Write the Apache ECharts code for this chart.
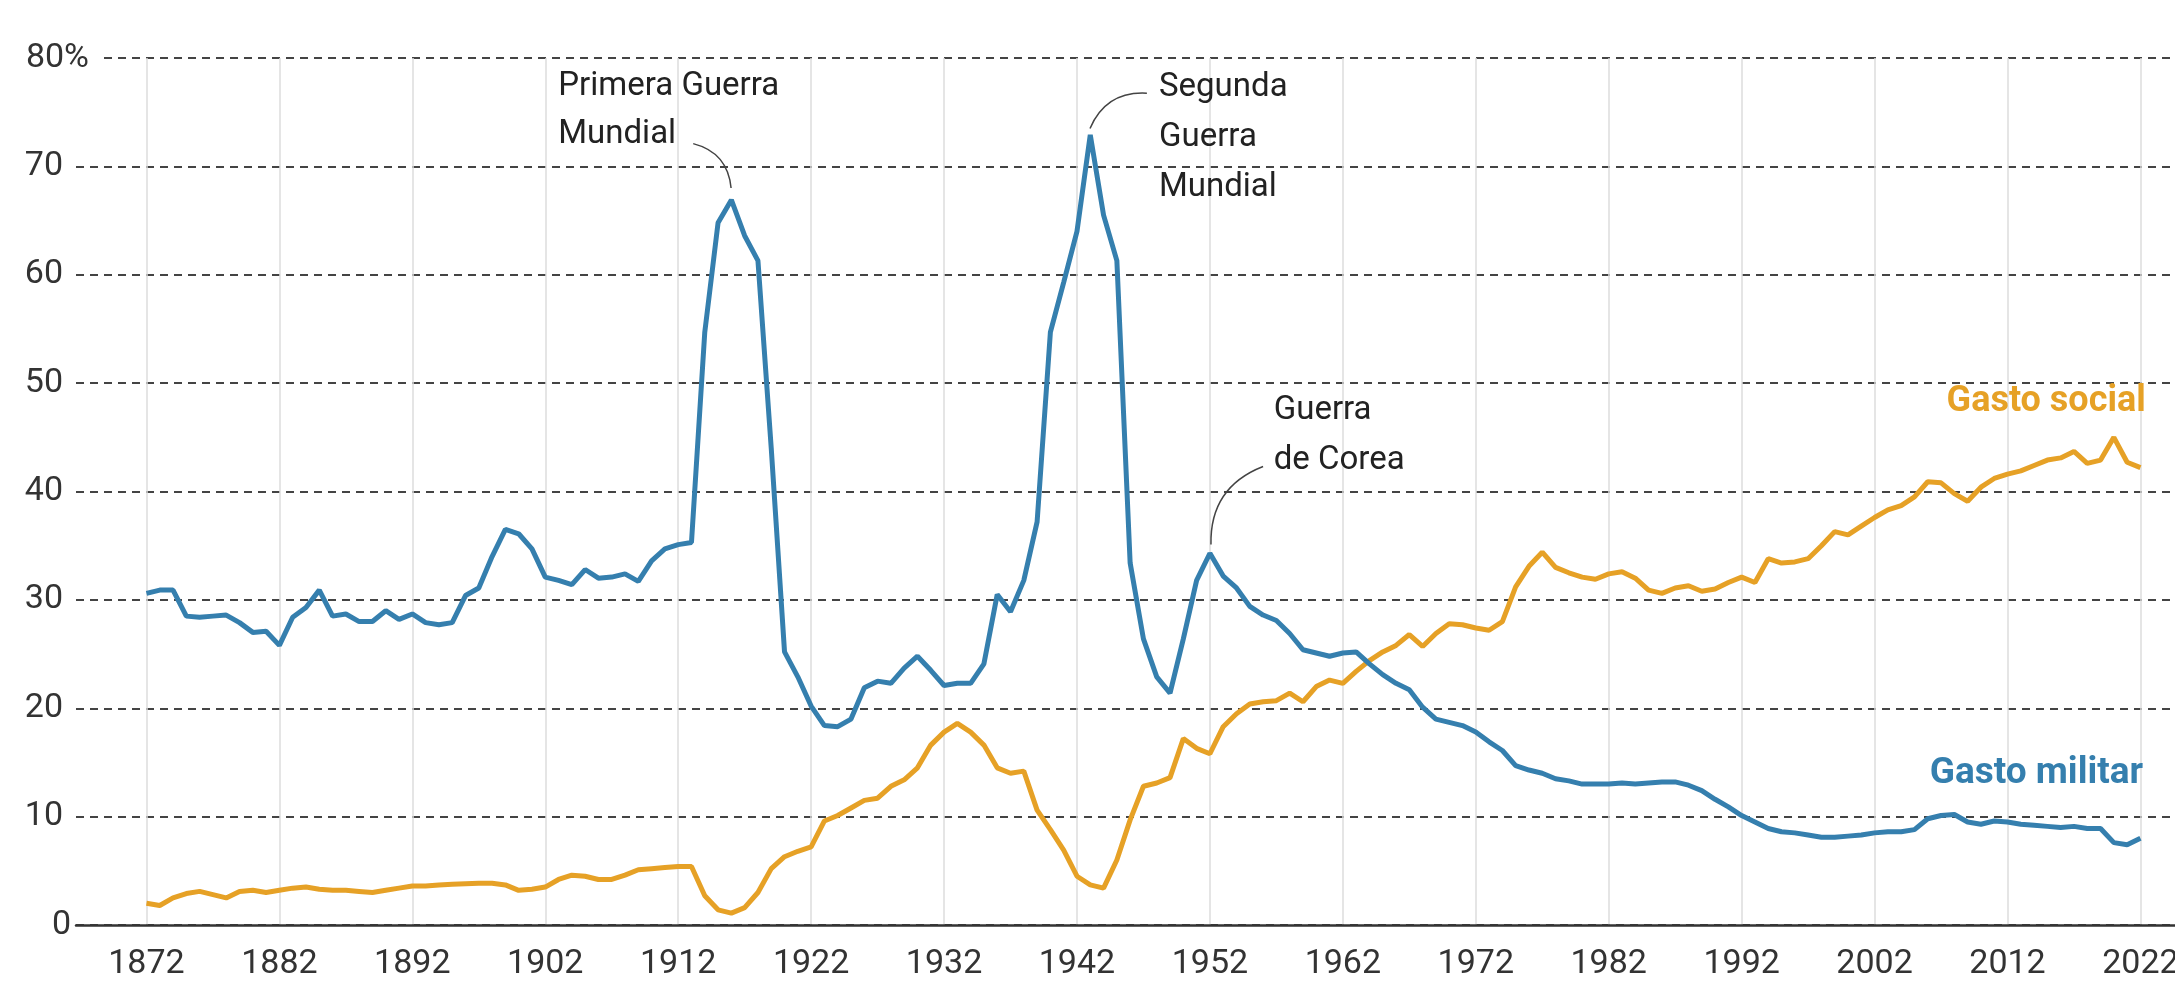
<!DOCTYPE html>
<html>
<head>
<meta charset="utf-8">
<script src="https://cdn.jsdelivr.net/npm/echarts@6/dist/echarts.min.js"></script>
<style>
  html, body { margin: 0; padding: 0; background: #fff; }
  #chart { width: 2175px; height: 993px; }
</style>
</head>
<body>
<div id="chart"></div>
<script>
// años 1872-2022, un valor por año
const firstYear = 1872
const tickYears = [1872, 1882, 1892, 1902, 1912, 1922, 1932, 1942, 1952, 1962, 1972, 1982, 1992, 2002, 2012, 2022]
const yTicks = [0, 10, 20, 30, 40, 50, 60, 70, 80]

const gastoMilitar = [
  30.6, 30.9, 30.9, 28.5, 28.4, 28.5, 28.6, 27.9, 27.0, 27.1, // 1872-1881
  25.8, 28.4, 29.3, 30.9, 28.5, 28.7, 28.0, 28.0, 29.0, 28.2, // 1882-1891
  28.7, 27.9, 27.7, 27.9, 30.4, 31.1, 34.0, 36.5, 36.1, 34.7, // 1892-1901
  32.1, 31.8, 31.4, 32.8, 32.0, 32.1, 32.4, 31.7, 33.6, 34.7, // 1902-1911
  35.1, 35.3, 54.7, 64.8, 66.9, 63.6, 61.3, 44.0, 25.2, 22.9, // 1912-1921
  20.2, 18.4, 18.3, 19.0, 21.9, 22.5, 22.3, 23.7, 24.8, 23.5, // 1922-1931
  22.1, 22.3, 22.3, 24.1, 30.5, 28.9, 31.8, 37.2, 54.7, 59.3, // 1932-1941
  64.0, 72.9, 65.5, 61.3, 33.4, 26.4, 22.9, 21.4, 26.4, 31.8, // 1942-1951
  34.3, 32.2, 31.1, 29.4, 28.6, 28.1, 26.9, 25.4, 25.1, 24.8, // 1952-1961
  25.1, 25.2, 24.1, 23.1, 22.3, 21.7, 20.1, 19.0, 18.7, 18.4, // 1962-1971
  17.8, 16.9, 16.1, 14.7, 14.3, 14.0, 13.5, 13.3, 13.0, 13.0, // 1972-1981
  13.0, 13.1, 13.0, 13.1, 13.2, 13.2, 12.9, 12.4, 11.6, 10.9, // 1982-1991
  10.1, 9.5, 8.9, 8.6, 8.5, 8.3, 8.1, 8.1, 8.2, 8.3,          // 1992-2001
  8.5, 8.6, 8.6, 8.8, 9.8, 10.1, 10.2, 9.5, 9.3, 9.6,         // 2002-2011
  9.5, 9.3, 9.2, 9.1, 9.0, 9.1, 8.9, 8.9, 7.6, 7.4,           // 2012-2021
  8.0                                                          // 2022
]

const gastoSocial = [
  2.0, 1.8, 2.5, 2.9, 3.1, 2.8, 2.5, 3.1, 3.2, 3.0,           // 1872-1881
  3.2, 3.4, 3.5, 3.3, 3.2, 3.2, 3.1, 3.0, 3.2, 3.4,           // 1882-1891
  3.6, 3.6, 3.7, 3.75, 3.8, 3.85, 3.85, 3.7, 3.2, 3.3,        // 1892-1901
  3.5, 4.2, 4.6, 4.5, 4.2, 4.2, 4.6, 5.1, 5.2, 5.3,           // 1902-1911
  5.4, 5.4, 2.7, 1.4, 1.1, 1.6, 3.0, 5.2, 6.3, 6.8,           // 1912-1921
  7.2, 9.6, 10.1, 10.8, 11.5, 11.7, 12.8, 13.4, 14.5, 16.6,   // 1922-1931
  17.8, 18.6, 17.8, 16.6, 14.5, 14.0, 14.2, 10.6, 8.8, 6.9,   // 1932-1941
  4.5, 3.7, 3.4, 6.0, 9.7, 12.8, 13.1, 13.6, 17.2, 16.3,      // 1942-1951
  15.8, 18.3, 19.5, 20.4, 20.6, 20.7, 21.4, 20.6, 22.0, 22.6, // 1952-1961
  22.3, 23.4, 24.4, 25.2, 25.8, 26.8, 25.7, 26.9, 27.8, 27.7, // 1962-1971
  27.4, 27.2, 28.0, 31.2, 33.1, 34.4, 33.0, 32.5, 32.1, 31.9, // 1972-1981
  32.4, 32.6, 32.0, 30.9, 30.6, 31.1, 31.3, 30.8, 31.0, 31.6, // 1982-1991
  32.1, 31.6, 33.8, 33.4, 33.5, 33.8, 35.0, 36.3, 36.0, 36.8, // 1992-2001
  37.6, 38.3, 38.7, 39.5, 40.9, 40.8, 39.8, 39.1, 40.4, 41.2, // 2002-2011
  41.6, 41.9, 42.4, 42.9, 43.1, 43.7, 42.6, 42.9, 45.0, 42.7, // 2012-2021
  42.2                                                         // 2022
]

// conectores de las anotaciones (texto -> pico), en coordenadas de datos
const conectores = [
  [[1913.13, 72.1], [1915.98, 68.0]],
  [[1942.98, 73.5], [1947.26, 76.75]],
  [[1952.08, 35.1], [1956.0, 42.3]]
]

const BLUE = '#357fae'
const ORANGE = '#e6a126'
const FONT = "Roboto, 'Noto Sans', sans-serif"

const toPairs = arr => arr.map((v, i) => [firstYear + i, v])

const chart = echarts.init(document.getElementById('chart'))

const option = {
  animation: false,
  backgroundColor: '#fff',
  grid: { left: 76, right: 0, top: 58, bottom: 68, outerBoundsMode: 'none' },
  xAxis: {
    type: 'value',
    min: 1866.7,
    max: 2024.6,
    axisLine: { show: true, lineStyle: { color: '#333', width: 2.5 } },
    axisTick: { show: false, customValues: tickYears },
    axisLabel: {
      customValues: tickYears,
      formatter: v => String(v),
      fontSize: 34,
      color: '#333',
      fontFamily: FONT,
      margin: 22
    },
    splitLine: { show: true, lineStyle: { color: '#dcdcdc', width: 1.5 } }
  },
  yAxis: [
    {
      type: 'value',
      position: 'left',
      min: 0, max: 80, interval: 10,
      axisLine: { show: false },
      axisTick: { show: false },
      axisLabel: { show: false },
      splitLine: { lineStyle: { color: '#444', width: 2.2, type: [8, 6] } }
    },
    {
      type: 'value',
      position: 'left',
      offset: 0,
      min: 0, max: 80, interval: 10,
      z: 5,
      axisLine: { show: false },
      axisTick: { show: false },
      splitLine: { show: false },
      axisLabel: {
        margin: -27,
        color: '#333',
        fontSize: 34,
        fontFamily: FONT,
        formatter: v => {
          if (v === 80) return '{w|80%}{pw| }'
          if (v === 0) return '{z|0}{q| }'
          return '{v|' + v + '}{p| }'
        },
        rich: {
          v: { width: 42, align: 'right', fontSize: 34, fontFamily: FONT, color: '#333' },
          z: { width: 42, align: 'right', fontSize: 34, fontFamily: FONT, color: '#333' },
          w: { width: 68, height: 36, align: 'right', fontSize: 34, fontFamily: FONT, color: '#333', backgroundColor: '#fff' },
          pw: { width: 14, height: 36, fontSize: 34, backgroundColor: '#fff' },
          p: { width: 40, fontSize: 34 },
          q: { width: 32, fontSize: 34 }
        }
      }
    }
  ],
  series: [
    {
      name: 'Gasto social',
      type: 'line',
      data: toPairs(gastoSocial),
      showSymbol: false,
      lineStyle: { color: ORANGE, width: 5 },
      itemStyle: { color: ORANGE },
      z: 3,
      markPoint: {
        silent: true,
        symbol: 'circle',
        symbolSize: 0,
        label: {
          show: true, position: 'inside', align: 'right', verticalAlign: 'middle',
          color: ORANGE, fontWeight: 'bold', fontSize: 36, fontFamily: FONT
        },
        data: [{ coord: [2022.4, 48.3], label: { formatter: 'Gasto social' } }]
      }
    },
    {
      name: 'Gasto militar',
      type: 'line',
      data: toPairs(gastoMilitar),
      showSymbol: false,
      lineStyle: { color: BLUE, width: 5 },
      itemStyle: { color: BLUE },
      z: 4,
      markPoint: {
        silent: true,
        symbol: 'circle',
        symbolSize: 0,
        label: {
          show: true, position: 'inside', align: 'left', verticalAlign: 'top',
          color: '#222', fontSize: 33, fontFamily: FONT, lineHeight: 48
        },
        data: [
          { coord: [1902.98, 79.6], label: { formatter: 'Primera Guerra\nMundial' } },
          { coord: [1948.17, 79.6], label: { formatter: 'Segunda\nGuerra\nMundial', lineHeight: 50 } },
          { coord: [1956.8, 49.8], label: { formatter: 'Guerra\nde Corea', lineHeight: 50 } },
          {
            coord: [2022.2, 14.0],
            label: {
              formatter: 'Gasto militar', align: 'right', verticalAlign: 'middle',
              color: BLUE, fontWeight: 'bold', fontSize: 37
            }
          }
        ]
      }
    },
    {
      name: 'conectores',
      type: 'lines',
      coordinateSystem: 'cartesian2d',
      silent: true,
      z: 5,
      lineStyle: { color: '#444', width: 1.5, type: 'solid', curveness: 0.35, opacity: 1 },
      data: conectores.map(c => ({ coords: c }))
    }
  ]
}

chart.setOption(option)
window.addEventListener('resize', () => chart.resize())
</script>
</body>
</html>
